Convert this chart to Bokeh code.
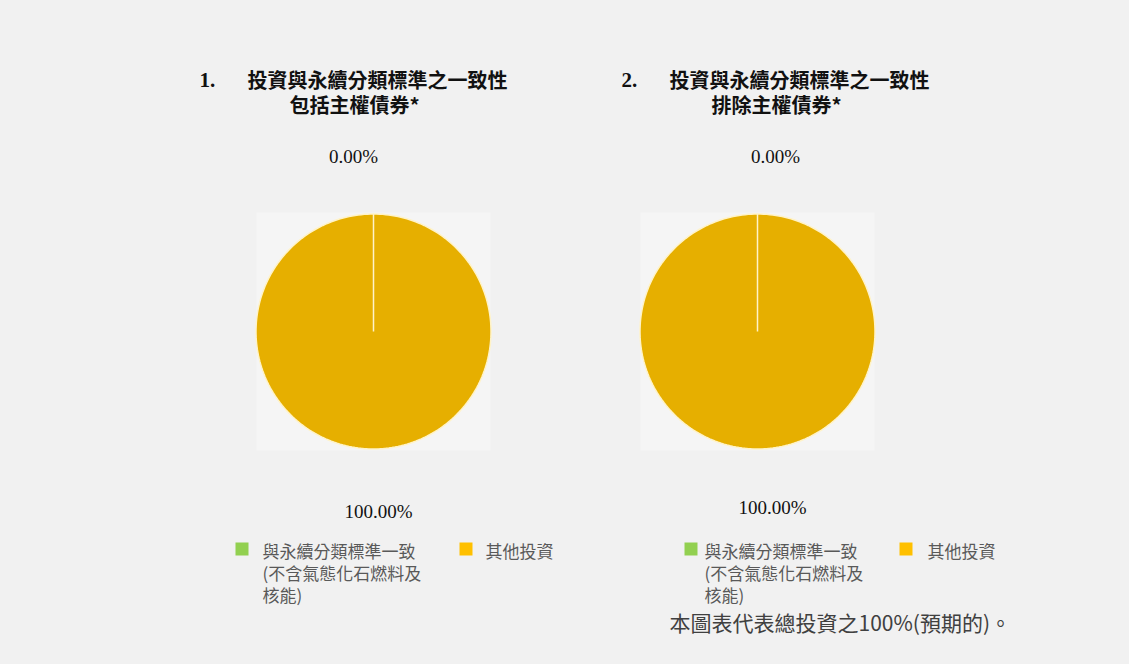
from bokeh.plotting import figure
from bokeh.models import Range1d, ColumnDataSource
from bokeh.core.properties import value
from bokeh.embed import file_html
from bokeh.resources import INLINE
import math

# ---------------- data ----------------
chart_numbers = ["1.", "2."]
chart_title_line1 = ["投資與永續分類標準之一致性", "投資與永續分類標準之一致性"]
chart_title_line2 = ["包括主權債券*", "排除主權債券*"]
categories = ["與永續分類標準一致", "其他投資"]
category_sublines = [["(不含氣態化石燃料及", "核能)"], []]
values_incl_sovereign = [0.0, 100.0]
values_excl_sovereign = [0.0, 100.0]
footnote = "本圖表代表總投資之100%(預期的)。"

# ---------------- style ----------------
BG = "#f1f1f1"
PIE_BG = "#f5f5f5"
PIE_COLORS = ["#92D050", "#E6AF00"]
LEGEND_COLORS = ["#92D050", "#FFC000"]
CJK = "Noto Sans CJK TC"
SERIF = "Liberation Serif"

W, H = 1129, 664
p = figure(width=W, height=H, output_backend="svg", toolbar_location=None,
           x_range=Range1d(0, W), y_range=Range1d(H, 0),
           min_border=0, outline_line_color=None)
p.axis.visible = False
p.grid.visible = False
p.background_fill_color = BG
p.border_fill_color = BG

panels = [
    dict(series=values_incl_sovereign, cx=373, cy=331, r=117.5, num_x=199, t1_x=247, t2_x=289,
         top_lab_x=353, top_lab_y=156, bot_lab_x=378, bot_lab_y=511,
         leg_sq=[241.5, 465.5], leg_tx=[262, 485]),
    dict(series=values_excl_sovereign, cx=757, cy=331, r=117.5, num_x=621, t1_x=669, t2_x=711,
         top_lab_x=775, top_lab_y=156, bot_lab_x=772, bot_lab_y=507,
         leg_sq=[690.5, 905.5], leg_tx=[704, 927]),
]


def slice_polygon(cx, cy, r, a0, a1, steps=240):
    n = max(2, int(steps * abs(a1 - a0) / (2 * math.pi)) + 1)
    xs, ys = [cx], [cy]
    for k in range(n + 1):
        a = a0 + (a1 - a0) * k / n
        xs.append(cx + r * math.cos(a))
        ys.append(cy - r * math.sin(a))  # y axis points down
    return xs, ys


for i, pn in enumerate(panels):
    vals = pn["series"]
    total = sum(vals)
    # pie background
    p.rect(x=[pn["cx"]], y=[pn["cy"]], width=234, height=238, fill_color=PIE_BG, line_color=None)
    # slices, starting at 12 o'clock, clockwise (zero-size slices are not drawn)
    pxs, pys, cols = [], [], []
    acc = 0.0
    for v, c in zip(vals, PIE_COLORS):
        a0 = math.pi / 2 - 2 * math.pi * acc / total
        acc += v
        a1 = math.pi / 2 - 2 * math.pi * acc / total
        if v > 0:
            sx, sy = slice_polygon(pn["cx"], pn["cy"], pn["r"], a0, a1)
            pxs.append(sx); pys.append(sy); cols.append(c)
    src = ColumnDataSource(dict(xs=pxs, ys=pys, color=cols))
    p.patches(xs="xs", ys="ys", fill_color="color", line_color="#FFF3C8", line_width=1.5,
              source=src)

    # titles
    p.text(x=[pn["num_x"]], y=[79], text=[chart_numbers[i]], text_font=value(SERIF),
           text_font_style="bold", text_font_size="21px", text_color="#111111",
           text_align="left", text_baseline="middle")
    p.text(x=[pn["t1_x"]], y=[79], text=[chart_title_line1[i]], text_font=value(CJK),
           text_font_style="bold", text_font_size="20px", text_color="#111111",
           text_align="left", text_baseline="middle")
    p.text(x=[pn["t2_x"]], y=[104], text=[chart_title_line2[i]], text_font=value(CJK),
           text_font_style="bold", text_font_size="20px", text_color="#111111",
           text_align="left", text_baseline="middle")

    # percent labels
    p.text(x=[pn["top_lab_x"]], y=[pn["top_lab_y"]], text=[f"{vals[0]:.2f}%"],
           text_font=value(SERIF), text_font_size="19px", text_color="#111111",
           text_align="center", text_baseline="middle")
    p.text(x=[pn["bot_lab_x"]], y=[pn["bot_lab_y"]], text=[f"{vals[1]:.2f}%"],
           text_font=value(SERIF), text_font_size="19px", text_color="#111111",
           text_align="center", text_baseline="middle")

    # legend
    for j, cat in enumerate(categories):
        p.rect(x=[pn["leg_sq"][j]], y=[548.5], width=13, height=13,
               fill_color=LEGEND_COLORS[j], line_color=None)
        lines = [cat] + category_sublines[j]
        p.text(x=[pn["leg_tx"][j]] * len(lines), y=[550 + 22 * k for k in range(len(lines))],
               text=lines, text_font=value(CJK), text_font_size="17px",
               text_color="#595959", text_align="left", text_baseline="middle")

p.text(x=[669], y=[621], text=[footnote], text_font=value(CJK), text_font_size="21px",
       text_color="#404040", text_align="left", text_baseline="middle")

template = """{% block preamble %}<style>html, body { background: #f1f1f1; margin: 0 !important; padding: 0 !important; overflow: hidden; }</style>{% endblock %}"""
try:
    html = file_html(p, INLINE, template=template)
except Exception:
    html = file_html(p, INLINE)
open("out.html", "w").write(html)
